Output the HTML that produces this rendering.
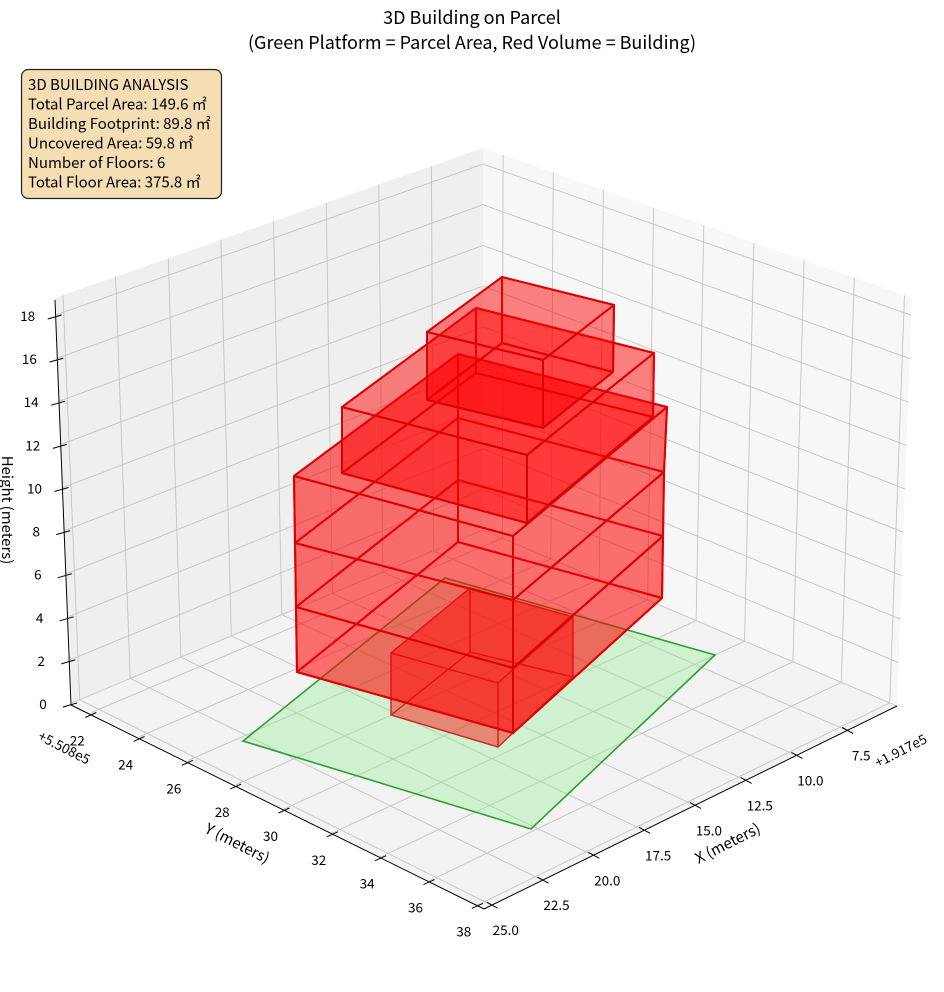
<!DOCTYPE html>
<html><head><meta charset="utf-8"><style>
html,body{margin:0;padding:0;background:#fff;}
svg{display:block;font-family:"Noto Sans CJK JP","Liberation Sans",sans-serif;}
</style></head><body>
<svg id="s" width="944" height="992" viewBox="0 0 944 992" xmlns="http://www.w3.org/2000/svg">
<g id="panes"></g>
<g id="grid" stroke="#c4c4c4" stroke-width="0.9" fill="none"></g>
<g id="axes" stroke="#000" stroke-width="1" fill="none"></g>
<g id="labels" font-size="13.5" fill="#000"></g>
<polygon points="243,741 445,578 715,655 531,829" fill="rgb(144,238,144)" fill-opacity="0.35" stroke="#2ca02c" stroke-width="1.6"/>
<g id="bld"></g>
<text x="472" y="24" font-size="18" text-anchor="middle">3D Building on Parcel</text>
<text x="472" y="49" font-size="18" text-anchor="middle">(Green Platform = Parcel Area, Red Volume = Building)</text>
<rect x="21.5" y="69.5" width="200" height="129" rx="7" fill="#f5deb3" stroke="#222" stroke-width="1.2"/>
<g font-size="15" fill="#000">
<text x="28" y="90">3D BUILDING ANALYSIS</text>
<text x="28" y="109.5">Total Parcel Area: 149.6 ㎡</text>
<text x="28" y="129">Building Footprint: 89.8 ㎡</text>
<text x="28" y="148.5">Uncovered Area: 59.8 ㎡</text>
<text x="28" y="168">Number of Floors: 6</text>
<text x="28" y="187.5">Total Floor Area: 375.8 ㎡</text>
</g>
<text font-size="15" transform="translate(2,510) rotate(90)" text-anchor="middle">Height (meters)</text>
<text font-size="15" transform="translate(235,848) rotate(27)" text-anchor="middle">Y (meters)</text>
<text font-size="15" transform="translate(730,848) rotate(-27)" text-anchor="middle">X (meters)</text>
<text font-size="13.5" transform="translate(62,752) rotate(27)" text-anchor="middle">+5.508e5</text>
<text font-size="13.5" transform="translate(903,755) rotate(-27)" text-anchor="middle">+1.917e5</text>
</svg>
<script>
var NS="http://www.w3.org/2000/svg";
function el(p,t,a,txt){var e=document.createElementNS(NS,t);for(var k in a)e.setAttribute(k,a[k]);if(txt!=null)e.textContent=txt;document.getElementById(p).appendChild(e);return e;}
function L2(p,q,t){return [p[0]+(q[0]-p[0])*t,p[1]+(q[1]-p[1])*t];}
var L=[72,703],TL=[55,298],BB=[483,530],TB=[483,148],BR=[897,706],TR=[912,298],F=[484,909];
var X0=25.38,XR=20.33,Y0=21.2,YR=17.1,ZR=18.79;
function pts(a){return a.map(function(p){return p[0].toFixed(1)+","+p[1].toFixed(1)}).join(" ");}
el("panes","polygon",{points:pts([L,TL,TB,BB]),fill:"#efefef"});
el("panes","polygon",{points:pts([BB,TB,TR,BR]),fill:"#f7f7f7"});
el("panes","polygon",{points:pts([L,BB,BR,F]),fill:"#f3f3f3"});
function line(g,a,b){el(g,"line",{x1:a[0].toFixed(1),y1:a[1].toFixed(1),x2:b[0].toFixed(1),y2:b[1].toFixed(1)});}
var xt=[7.5,10,12.5,15,17.5,20,22.5,25],yt=[22,24,26,28,30,32,34,36,38],zt=[0,2,4,6,8,10,12,14,16,18];
xt.forEach(function(x){var u=(X0-x)/XR;
 line("grid",L2(L,BB,u),L2(TL,TB,u));
 line("grid",L2(L,BB,u),L2(F,BR,u));});
yt.forEach(function(y){var u=(y-Y0)/YR;
 line("grid",L2(BB,BR,u),L2(TB,TR,u));
 line("grid",L2(L,F,u),L2(BB,BR,u));});
zt.forEach(function(z){var v=z/ZR;
 line("grid",L2(L,TL,v),L2(BB,TB,v));
 line("grid",L2(BB,TB,v),L2(BR,TR,v));});
var A0=[71,705],A1=[55,300],AF=[484,909],AR=[897,706];
line("axes",A0,A1);line("axes",A0,AF);line("axes",AF,AR);
zt.forEach(function(z){var p=L2(A0,A1,z/ZR);line("axes",[p[0]-8,p[1]+2],[p[0]+6,p[1]-2]);
 el("labels","text",{x:(p[0]-28).toFixed(1),y:(p[1]+4).toFixed(1),"text-anchor":"middle"},String(z));});
yt.forEach(function(y){var p=L2(A0,AF,(y-Y0)/YR);line("axes",[p[0]-5,p[1]+3],[p[0]+6,p[1]-2]);
 el("labels","text",{x:(p[0]-13).toFixed(1),y:(p[1]+31).toFixed(1),"text-anchor":"middle"},String(y));});
xt.forEach(function(x){var p=L2(AF,AR,(X0-x)/XR);line("axes",[p[0]-5,p[1]-3],[p[0]+6,p[1]+3]);
 el("labels","text",{x:(p[0]+14).toFixed(1),y:(p[1]+30).toFixed(1),"text-anchor":"middle"},x.toFixed(1));});
function box(t,b,stroke,sw,op,noTop,noBot){
 var faces=[];
 if(!noBot)faces.push([b[0],b[1],b[2],b[3]]);
 faces.push([t[0],t[1],b[1],b[0]],[t[3],t[0],b[0],b[3]],[t[1],t[2],b[2],b[1]],[t[2],t[3],b[3],b[2]]);
 if(!noTop)faces.push([t[0],t[1],t[2],t[3]]);
 faces.forEach(function(f){el("bld","polygon",{points:pts(f),fill:"#ff0000","fill-opacity":op,stroke:stroke,"stroke-width":sw,"stroke-linejoin":"round"});});
}
box([[470,588],[573,617],[498,683],[391,653]],[[470,652],[573,677],[498,747],[391,715]],"#cc2a2a",1.3,0.25);
var Fy=[536,600,668,733],Ly=[476,543,607,672],Ry=[407,472,536,598],By=[354,418,480,542];
var Fx=513,Lx=[294,295,296,297],Rx=[667,664,663,662],Bx=458;
for(var i=2;i>=0;i--){
 box([[Bx,By[i]],[Rx[i],Ry[i]],[Fx,Fy[i]],[Lx[i],Ly[i]]],[[Bx,By[i+1]],[Rx[i+1],Ry[i+1]],[Fx,Fy[i+1]],[Lx[i+1],Ly[i+1]]],"#dd0000",2,0.33,i!=0,i!=2);
}
box([[476,308],[654,353],[527,455],[342,407]],[[476,373],[653,417],[527,523],[342,473]],"#dd0000",2,0.28);
box([[502,277],[614,305],[543,360],[427,332]],[[502,343],[613,372],[543,428],[427,400]],"#dd0000",2,0.28);
</script>
</body></html>
